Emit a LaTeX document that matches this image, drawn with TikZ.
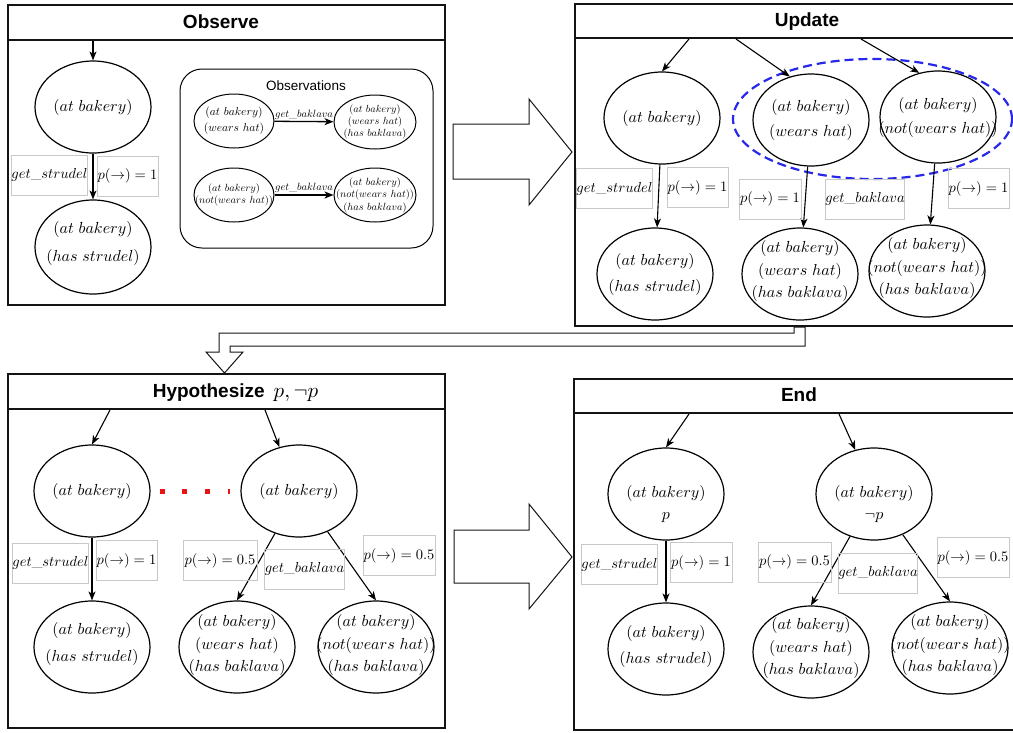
\documentclass[tikz,border=0pt]{standalone}
\usepackage{fontspec}
\newfontfamily\sansf{Liberation Sans}
\usetikzlibrary{shapes.geometric,arrows.meta}
\DeclareFontShape{OML}{cmm}{m}{it}{<->cmmi10}{}
\DeclareFontShape{OMS}{cmsy}{m}{n}{<->cmsy10}{}
\DeclareFontShape{OT1}{cmr}{m}{n}{<->cmr10}{}
\DeclareFontShape{OMX}{cmex}{m}{n}{<->cmex10}{}
\definecolor{lblgray}{RGB}{200,200,200}
\definecolor{grpblue}{RGB}{40,40,235}
\definecolor{dotred}{RGB}{235,20,20}
\definecolor{framec}{RGB}{20,20,20}
\begin{document}
\begin{tikzpicture}[x=1pt,y=-1pt,
  panel/.style={draw=framec, line width=1.2pt},
  ttl/.style={font=\sansf\bfseries\fontsize{19}{23}\selectfont},
  ell/.style={draw, ellipse, line width=1.2pt, inner sep=0pt, minimum width=116pt, minimum height=92pt},
  etx/.style={align=center, inner sep=0pt, font=\fontsize{16}{26}\selectfont},
  etxthree/.style={etx, font=\fontsize{16}{22.5}\selectfont},
  sml/.style={draw, ellipse, line width=1pt, inner sep=0pt, minimum width=80pt, minimum height=54pt},
  stx/.style={align=center, inner sep=0pt},
  lbl/.style={draw=lblgray, line width=0.6pt, inner sep=0pt, minimum height=40pt, font=\fontsize{14.5}{16}\selectfont},
  arr/.style={-{Stealth[length=9pt,width=7pt,inset=2.5pt]}, line width=1.1pt},
  bigarr/.style={draw=framec, line width=1pt, fill=white, line join=miter},
]
\useasboundingbox (0,0) rectangle (1013,732);
\clip (0,0) rectangle (1013,732);
\fill[white] (0,0) rectangle (1013,732);

% ================= Observe =================
\draw[panel] (8,5) rectangle (445,305);
\draw[panel] (8,40) -- (445,40);
\node[ttl] (tO) at (221,22) {Observe};
\node[ell] (O1) at (93,107) {};
\node[etx] (O1t) at (O1) {$(at\ bakery)$};
\node[ell, minimum height=94pt] (O2) at (93,247) {};
\node[etx, font=\fontsize{16}{28}\selectfont] (O2t) at (93,243) {$(at\ bakery)$\\$(has\ strudel)$};
\coordinate (Oin) at (93,41);
\draw[arr] (Oin) -- (O1);
\draw[arr] (O1) -- (O2);
\node[lbl, minimum width=73pt] (Ogs) at (49.5,175) {$get\_strudel$};
\node[lbl, minimum width=61pt] (Op) at (127.5,176) {$p(\rightarrow)=1$};

\node[draw, rounded corners=22pt, line width=1pt, minimum width=253pt, minimum height=179pt] (obsbox) at (306.5,158.5) {};
\node[font=\sansf\fontsize{13.5}{16}\selectfont] (obsttl) at (306,86) {Observations};
\node[sml] (Ob1) at (234,121) {};
\node[stx, font=\fontsize{11.5}{16}\selectfont] (Ob1t) at (Ob1) {$(at\ bakery)$\\$(wears\ hat)$};
\node[sml, minimum width=82pt] (Ob2) at (375,122) {};
\node[stx, font=\fontsize{10.3}{12.3}\selectfont] (Ob2t) at (Ob2) {$(at\ bakery)$\\$(wears\ hat)$\\$(has\ baklava)$};
\node[sml] (Ob3) at (234,195) {};
\node[stx, font=\fontsize{10.4}{12.5}\selectfont] (Ob3t) at (Ob3) {$(at\ bakery)$\\$(not(wears\ hat))$};
\node[sml, minimum width=82pt] (Ob4) at (375,195) {};
\node[stx, font=\fontsize{10.4}{12.5}\selectfont] (Ob4t) at (Ob4) {$(at\ bakery)$\\$(not(wears\ hat))$\\$(has\ baklava)$};
\draw[arr, line width=1.3pt] (Ob1) -- node[above, font=\fontsize{10.5}{12}\selectfont, inner sep=1.5pt] (gbA) {$get\_baklava$} (Ob2);
\draw[arr, line width=1.3pt] (Ob3) -- node[above, font=\fontsize{10.5}{12}\selectfont, inner sep=1.5pt] (gbB) {$get\_baklava$} (Ob4);

% big arrow 1
\draw[bigarr] (453,124) -- (529,124) -- (529,99) -- (572,152) -- (529,205) -- (529,179) -- (453,179) -- cycle;

% ================= Update =================
\draw[panel] (575,4) rectangle (1040,326);
\draw[panel] (575,38) -- (1040,38);
\node[ttl] (tU) at (807,22) {Update};
\node[draw=grpblue, ellipse, dash pattern=on 9pt off 5pt, line width=2.2pt, minimum width=279pt, minimum height=120pt, inner sep=0pt] (grp) at (872.5,119) {};
\node[ell] (U1) at (662,118) {};
\node[etx] (U1t) at (U1) {$(at\ bakery)$};
\node[ell] (U2) at (811,120) {};
\node[etx, font=\fontsize{16}{25}\selectfont] (U2t) at (U2) {$(at\ bakery)$\\$(wears\ hat)$};
\node[ell] (U3) at (938,117) {};
\node[etx, font=\fontsize{16}{24}\selectfont] (U3t) at (U3) {$(at\ bakery)$\\$(not(wears\ hat))$};
\node[ell] (U4) at (655,274) {};
\node[etx] (U4t) at (U4) {$(at\ bakery)$\\$(has\ strudel)$};
\node[ell] (U5) at (800,274) {};
\node[etxthree] (U5t) at (800,271) {$(at\ bakery)$\\$(wears\ hat)$\\$(has\ baklava)$};
\node[ell] (U6) at (927,271) {};
\node[etxthree] (U6t) at (927,268) {$(at\ bakery)$\\$(not(wears\ hat))$\\$(has\ baklava)$};
\coordinate (Uin1) at (689,39);
\coordinate (Uin2) at (736,39);
\coordinate (Uin3) at (861,39);
\draw[arr] (Uin1) -- (U1.north);
\draw[arr] (Uin2) -- (U2.116);
\draw[arr] (Uin3) -- (U3.113);
\draw[arr] (U1) -- (U4);
\draw[arr] (U2) -- (U5);
\draw[arr] (U3) -- (U6);
\node[lbl, minimum width=73pt] (Ugs) at (614.5,188.5) {$get\_strudel$};
\node[lbl, minimum width=61pt] (Up1) at (697.5,187.5) {$p(\rightarrow)=1$};
\node[lbl, minimum width=62pt] (Up2) at (770,199) {$p(\rightarrow)=1$};
\node[lbl, minimum width=76pt] (Ugb) at (865,199) {$get\_baklava$};
\node[lbl, minimum width=61pt] (Up3) at (978.5,188.5) {$p(\rightarrow)=1$};

% bent arrow Update -> Hypothesize
\draw[bigarr] (794,327) -- (794,333) -- (219,333) -- (219,352) -- (206,352) -- (224.5,373) -- (243,352) -- (230,352) -- (230,346) -- (805,346) -- (805,327) -- cycle;

% ================= Hypothesize =================
\draw[panel] (8,374) rectangle (445,728);
\draw[panel] (8,409) -- (445,409);
\node[ttl] (tH) at (235.5,393) {Hypothesize\hspace{9pt}{\fontsize{21}{24}\selectfont$p,\neg p$}};
\node[ell] (H1) at (92,491) {};
\node[etx] (H1t) at (H1) {$(at\ bakery)$};
\node[ell] (H2) at (299,491) {};
\node[etx] (H2t) at (H2) {$(at\ bakery)$};
\node[ell] (H3) at (92,647) {};
\node[etx, font=\fontsize{16}{27}\selectfont] (H3t) at (92,644) {$(at\ bakery)$\\$(has\ strudel)$};
\node[ell] (H4) at (237,647) {};
\node[etxthree] (H4t) at (237,645) {$(at\ bakery)$\\$(wears\ hat)$\\$(has\ baklava)$};
\node[ell] (H5) at (376,647) {};
\node[etxthree] (H5t) at (376,645) {$(at\ bakery)$\\$(not(wears\ hat))$\\$(has\ baklava)$};
\coordinate (Hin1) at (110,410);
\coordinate (Hin2) at (265,410);
\draw[arr] (Hin1) -- (H1.north);
\draw[arr] (Hin2) -- (H2.114);
\draw[arr] (H1) -- (H3);
\draw[arr] (H2) -- (H4.north);
\draw[arr] (H2) -- (H5.north);
\draw[dotred, line width=5pt, dash pattern=on 5pt off 17.67pt, shorten <=9pt, shorten >=10pt] (H1.east) -- (H2.west);
\node[lbl, minimum width=73pt] (Hgs) at (50.5,563) {$get\_strudel$};
\node[lbl, minimum width=61pt] (Hp1) at (126.5,560.5) {$p(\rightarrow)=1$};
\node[lbl, minimum width=74pt] (Hp2) at (220,560.5) {$p(\rightarrow)=0.5$};
\node[lbl, minimum width=77pt] (Hgb) at (304.5,569) {$get\_baklava$};
\node[lbl, minimum width=72pt] (Hp3) at (399,555.5) {$p(\rightarrow)=0.5$};

% big arrow 2
\draw[bigarr] (454,530) -- (529,530) -- (529,504) -- (572,557) -- (529,609) -- (529,583) -- (454,583) -- cycle;

% ================= End =================
\draw[panel] (574,379) rectangle (1040,730);
\draw[panel] (574,413) -- (1040,413);
\node[ttl] (tE) at (799,395) {End};
\node[ell] (E1) at (666,494) {};
\node[etx, font=\fontsize{16}{22}\selectfont] (E1t) at (666,504) {$(at\ bakery)$\\$p$};
\node[ell] (E2) at (874,494) {};
\node[etx, font=\fontsize{16}{22}\selectfont] (E2t) at (874,504) {$(at\ bakery)$\\$\neg p$};
\node[ell] (E3) at (666,649) {};
\node[etx] (E3t) at (666,646) {$(at\ bakery)$\\$(has\ strudel)$};
\node[ell] (E4) at (811,652) {};
\node[etxthree] (E4t) at (811,648) {$(at\ bakery)$\\$(wears\ hat)$\\$(has\ baklava)$};
\node[ell] (E5) at (950,648) {};
\node[etxthree] (E5t) at (950,645) {$(at\ bakery)$\\$(not(wears\ hat))$\\$(has\ baklava)$};
\coordinate (Ein1) at (689,414);
\coordinate (Ein2) at (839,414);
\draw[arr] (Ein1) -- (E1.north);
\draw[arr] (Ein2) -- (E2.113);
\draw[arr] (E1) -- (E3);
\draw[arr] (E2) -- (E4.north);
\draw[arr] (E2) -- (E5.north);
\node[lbl, minimum width=73pt] (Egs) at (619.5,564.5) {$get\_strudel$};
\node[lbl, minimum width=62pt] (Ep1) at (701,562.5) {$p(\rightarrow)=1$};
\node[lbl, minimum width=73pt] (Ep2) at (794.5,562) {$p(\rightarrow)=0.5$};
\node[lbl, minimum width=78pt] (Egb) at (878,573) {$get\_baklava$};
\node[lbl, minimum width=72pt] (Ep3) at (973,557.5) {$p(\rightarrow)=0.5$};
\end{tikzpicture}
\end{document}
